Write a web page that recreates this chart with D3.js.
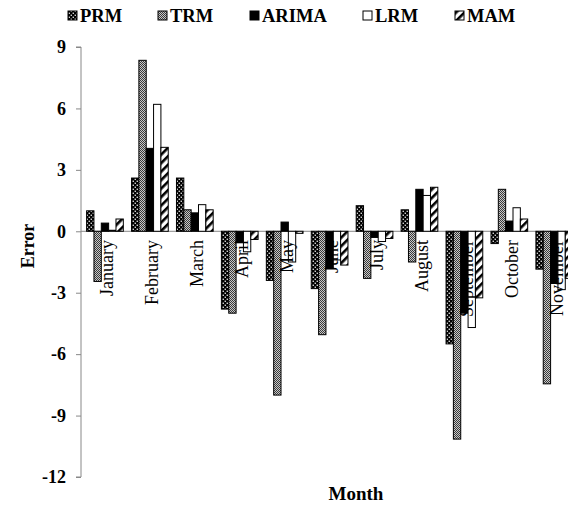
<!DOCTYPE html>
<html><head><meta charset="utf-8">
<script src="https://cdn.jsdelivr.net/npm/d3@7"></script>
<style>body{margin:0;background:#fff;} svg{display:block;}</style>
</head><body>
<script>
const months = ["January","February","March","April","May","June","July","August","September","October","November"];
const seriesNames = ["PRM","TRM","ARIMA","LRM","MAM"];
const PRM   = [1.0, 2.6, 2.6, -3.8, -2.4, -2.8, 1.25, 1.05, -5.5, -0.6, -1.85];
const TRM   = [-2.45, 8.35, 1.05, -4.0, -8.0, -5.05, -2.3, -1.5, -10.15, 2.05, -7.45];
const ARIMA = [0.4, 4.05, 0.9, -0.55, 0.45, -1.8, -0.3, 2.05, -4.0, 0.5, -2.55];
const LRM   = [0.05, 6.2, 1.3, -1.0, -1.5, -1.4, -0.5, 1.75, -4.7, 1.15, -2.85];
const MAM   = [0.6, 4.1, 1.05, -0.4, -0.1, -1.65, -0.35, 2.15, -3.25, 0.6, -2.3];
const yTicks = [9, 6, 3, 0, -3, -6, -9, -12];

const seriesData = {PRM, TRM, ARIMA, LRM, MAM};
const W = 568, H = 508;
const svg = d3.select("body").append("svg").attr("width", W).attr("height", H);
const defs = svg.append("defs");

// patterns
const pPRM = defs.append("pattern").attr("id","pPRM").attr("patternUnits","userSpaceOnUse").attr("width",4).attr("height",4);
pPRM.append("rect").attr("width",4).attr("height",4).attr("fill","#000");
pPRM.append("rect").attr("x",0.6).attr("y",0.6).attr("width",1.3).attr("height",1.3).attr("fill","#fff");
pPRM.append("rect").attr("x",2.6).attr("y",2.6).attr("width",1.3).attr("height",1.3).attr("fill","#fff");

const pTRM = defs.append("pattern").attr("id","pTRM").attr("patternUnits","userSpaceOnUse").attr("width",2).attr("height",2);
pTRM.append("rect").attr("width",2).attr("height",2).attr("fill","#c8c8c8");
pTRM.append("rect").attr("width",1).attr("height",1).attr("fill","#3a3a3a");
pTRM.append("rect").attr("x",1).attr("y",1).attr("width",1).attr("height",1).attr("fill","#3a3a3a");

const pMAM = defs.append("pattern").attr("id","pMAM").attr("patternUnits","userSpaceOnUse").attr("width",6).attr("height",6).attr("patternTransform","rotate(45)");
pMAM.append("rect").attr("width",6).attr("height",6).attr("fill","#fff");
pMAM.append("rect").attr("width",2.6).attr("height",6).attr("fill","#000");

const fills = {PRM:"url(#pPRM)", TRM:"url(#pTRM)", ARIMA:"#000", LRM:"#fff", MAM:"url(#pMAM)"};

const x0Start = 82.5, step = 44.93;
const x = d3.scaleBand().domain(months).range([x0Start, x0Start + step*months.length]).paddingInner(0.183).paddingOuter(0.0915);
const xs = d3.scaleBand().domain(seriesNames).range([0, x.bandwidth()]);
const y = d3.scaleLinear().domain([-12, 9]).range([477, 47]);

const serif = "'Liberation Serif','Times New Roman',serif";

// y axis
const yAxis = svg.append("g").attr("transform","translate(81,0)")
  .call(d3.axisLeft(y).tickValues(yTicks).tickSize(5).tickPadding(10).tickFormat(d => String(d)));
yAxis.select(".domain").attr("stroke","#888");
yAxis.selectAll(".tick line").attr("stroke","#888");
yAxis.selectAll(".tick text").attr("font-family",serif).attr("font-weight","bold").attr("font-size",18).attr("fill","#000");
yAxis.select(".domain").attr("d", `M-5,${y(9)}H0V${y(-12)}H-5`);

// zero line
svg.append("line").attr("x1",81).attr("x2",W).attr("y1",y(0)).attr("y2",y(0)).attr("stroke","#888").attr("stroke-width",1);

// bars
seriesNames.forEach(s => {
  svg.append("g").selectAll("rect").data(seriesData[s]).join("rect")
    .attr("x",(d,i)=>x(months[i]) + xs(s))
    .attr("width", xs.bandwidth())
    .attr("y", d => Math.min(y(d), y(0)))
    .attr("height", d => Math.abs(y(d) - y(0)))
    .attr("fill", fills[s])
    .attr("stroke","#000").attr("stroke-width",1);
});

// month labels
svg.append("g").selectAll("text").data(months).join("text")
  .attr("transform", d => `translate(${x(d) + x.bandwidth()/2 + 2},240) rotate(-90)`)
  .attr("text-anchor","end").attr("dy","0.35em")
  .attr("font-family",serif).attr("font-size",18).attr("fill","#000")
  .text(d=>d);

// axis titles
svg.append("text").attr("transform","translate(28,246) rotate(-90)").attr("text-anchor","middle").attr("dy","0.35em")
  .attr("font-family",serif).attr("font-weight","bold").attr("font-size",18).text("Error");
svg.append("text").attr("x",356).attr("y",500).attr("text-anchor","middle")
  .attr("font-family",serif).attr("font-weight","bold").attr("font-size",19).text("Month");

// legend
const legX = [68, 158, 250, 363, 455];
const leg = svg.append("g");
seriesNames.forEach((s,i) => {
  leg.append("rect").attr("x",legX[i]).attr("y",11).attr("width",9).attr("height",9)
    .attr("fill",fills[s]).attr("stroke","#000").attr("stroke-width",1);
  leg.append("text").attr("x",legX[i]+12).attr("y",22)
    .attr("font-family",serif).attr("font-weight","bold").attr("font-size",18.5).text(s);
});
</script>
</body></html>
